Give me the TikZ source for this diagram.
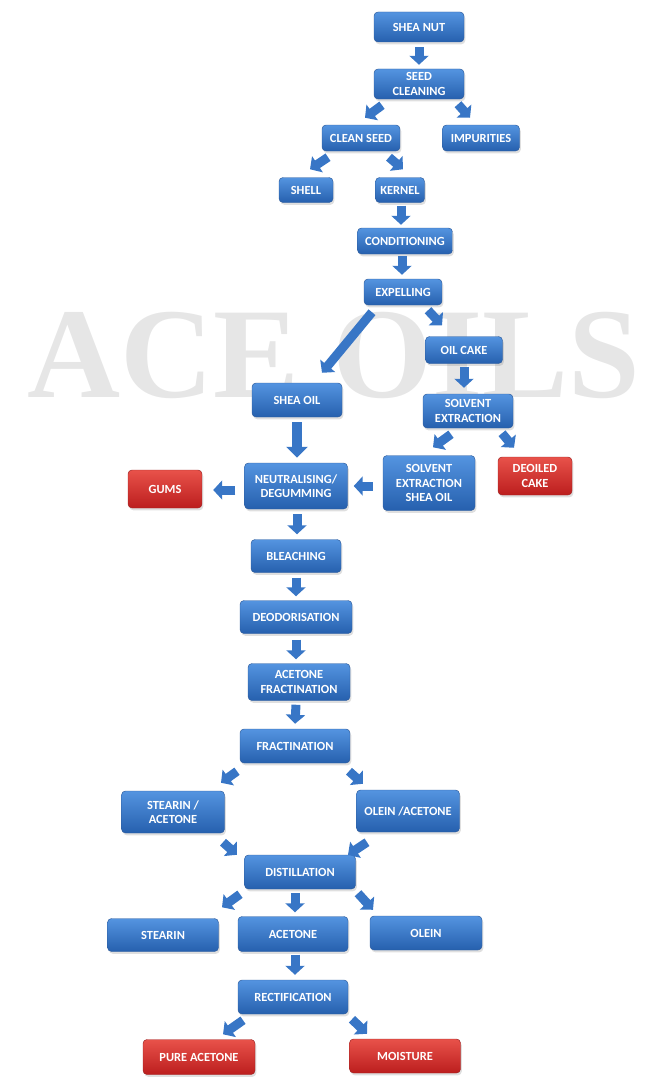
\documentclass[tikz,border=0pt]{standalone}
\usepackage{fontspec}
\setmainfont{Carlito}
\newfontfamily\markfont{Liberation Serif}
\usepackage{tikz}
\usetikzlibrary{arrows.meta, calc, shadows}
\definecolor{boxtop}{RGB}{84, 148, 224}
\definecolor{boxbot}{RGB}{38, 96, 174}
\definecolor{boxedge}{RGB}{46, 92, 156}
\definecolor{redtop}{RGB}{232, 82, 74}
\definecolor{redbot}{RGB}{188, 30, 30}
\definecolor{rededge}{RGB}{158, 36, 36}
\definecolor{arrowblue}{RGB}{56, 118, 198}
\definecolor{markgray}{RGB}{230, 230, 230}
\tikzset{
  box/.style    = {rectangle, rounded corners=1.2mm, draw=boxedge, top color=boxtop, bottom color=boxbot,
                   text=white, font=\fontsize{10.6}{12.4}\selectfont\bfseries, align=center, inner sep=0pt,
                   drop shadow={opacity=0.25, shadow xshift=0.4mm, shadow yshift=-0.7mm}},
  redbox/.style = {box, draw=rededge, top color=redtop, bottom color=redbot},
  blk/.style    = {-{Triangle[width=5.7mm, length=2.7mm]}, line width=2.7mm, arrowblue},
  blkbig/.style = {-{Triangle[width=6.3mm, length=3.3mm]}, line width=3.1mm, arrowblue},
}

\begin{document}
\begin{tikzpicture}[x=0.3mm, y=-0.3mm]

\useasboundingbox (0,0) rectangle (670,1086);

% ==================== watermark ====================
\node[anchor=base, text=markgray, font=\markfont\bfseries\fontsize{110}{110}\selectfont, inner sep=0pt]
  (mark) at (334,397) {ACE OILS};

% ==================== nut to expelling ====================
\node[box, minimum width=27mm,   minimum height=9mm]   (sn)  at (419,27)  {SHEA NUT};
\node[box, minimum width=27mm,   minimum height=9mm]   (scl) at (419,84)  {SEED\\CLEANING};
\node[box, minimum width=23.4mm, minimum height=7.8mm] (cs)  at (361,138) {CLEAN SEED};
\node[box, minimum width=23.1mm, minimum height=7.8mm] (imp) at (481,138) {IMPURITIES};
\node[box, minimum width=16.2mm, minimum height=7.5mm] (shl) at (306,190) {SHELL};
\node[box, minimum width=14.7mm, minimum height=7.5mm] (krn) at (400,190) {KERNEL};
\node[box, minimum width=28.5mm, minimum height=7.8mm] (cnd) at (405,241) {CONDITIONING};
\node[box, minimum width=23.4mm, minimum height=7.8mm] (exp) at (403,292) {EXPELLING};

% ==================== oil and cake ====================
\node[box, minimum width=23.1mm, minimum height=8.1mm]  (ock) at (464,350) {OIL CAKE};
\node[box, minimum width=27mm,   minimum height=10.2mm] (so)  at (297,400) {SHEA OIL};
\node[box, minimum width=27mm,   minimum height=10.2mm] (sx)  at (468,411) {SOLVENT\\EXTRACTION};
\node[box, minimum width=30.9mm, minimum height=13.8mm] (neu) at (296,486) {NEUTRALISING/\\DEGUMMING};
\node[box, minimum width=27.6mm, minimum height=16.5mm] (sxo) at (429,483) {SOLVENT\\EXTRACTION\\SHEA OIL};
\node[redbox, minimum width=22.2mm, minimum height=11.4mm] (doc) at (535,476) {DEOILED\\CAKE};
\node[redbox, minimum width=22.2mm, minimum height=11.4mm] (gum) at (165,489) {GUMS};

% ==================== refining ====================
\node[box, minimum width=27mm,   minimum height=9.9mm]  (blc) at (296,556) {BLEACHING};
\node[box, minimum width=33.6mm, minimum height=9.9mm]  (deo) at (296,617) {DEODORISATION};
\node[box, minimum width=30.6mm, minimum height=11.1mm] (afr) at (299,682) {ACETONE\\FRACTINATION};
\node[box, minimum width=33mm,   minimum height=10.2mm] (frc) at (295,746) {FRACTINATION};
\node[box, minimum width=30.9mm, minimum height=12.6mm] (sta) at (173,812) {STEARIN /\\ACETONE};
\node[box, minimum width=30.9mm, minimum height=12.6mm] (ola) at (408,811) {OLEIN /ACETONE};
\node[box, minimum width=33.3mm, minimum height=10.2mm] (dst) at (300,872) {DISTILLATION};
\node[box, minimum width=33.3mm, minimum height=9.9mm]  (str) at (163,935) {STEARIN};
\node[box, minimum width=33mm,   minimum height=10.5mm] (act) at (293,934) {ACETONE};
\node[box, minimum width=33.6mm, minimum height=10.2mm] (oln) at (426,933) {OLEIN};
\node[box, minimum width=33mm,   minimum height=10.2mm] (rct) at (293,997) {RECTIFICATION};
\node[redbox, minimum width=33.6mm, minimum height=10.5mm] (pac) at (199,1057) {PURE ACETONE};
\node[redbox, minimum width=33.3mm, minimum height=10.2mm] (mst) at (405,1056) {MOISTURE};

% ==================== arrows ====================
\draw[blk] ($(sn.south)+(0,5)$)    -- ($(scl.north)+(0,-4)$);
\draw[blk] ($(scl.south)+(-37,6)$) -- ($(cs.north)+(4,-7)$);
\draw[blk] ($(scl.south)+(39,5)$)  -- ($(imp.north)+(-11,-7)$);
\draw[blk] ($(cs.south)+(-33,6)$)  -- ($(shl.north)+(4,-8)$);
\draw[blk] ($(cs.south)+(28,6)$)   -- ($(krn.north)+(3,-8)$);
\draw[blk] ($(krn.south)+(1,3)$)   -- ($(cnd.north)+(-4,-3)$);
\draw[blk] ($(cnd.south)+(-3,2)$)  -- ($(exp.north)+(-1,-4)$);
\draw[blk] ($(exp.south)+(-31,7)$) -- ($(so.north)+(25,-10)$);
\draw[blk] ($(exp.south)+(25,5)$)  -- ($(ock.north)+(-22,-11)$);
\draw[blk] ($(ock.south)+(0,3)$)   -- ($(sx.north)+(-4,-6)$);
\draw[blkbig] ($(so.south)+(0,5)$) -- ($(neu.north)+(1,-5)$);
\draw[blk] ($(sx.south)+(-17,6)$)  -- ($(sxo.north)+(4,-8)$);
\draw[blk] ($(sx.south)+(34,5)$)   -- ($(doc.north)+(-21,-9)$);
\draw[blk] ($(sxo.west)+(-10,3)$)  -- ($(neu.east)+(6,0)$);
\draw[blk] ($(neu.west)+(-9,4)$)   -- ($(gum.east)+(11,1)$);
\draw[blk] ($(neu.south)+(1,5)$)   -- ($(blc.north)+(1,-5)$);
\draw[blk] ($(blc.south)+(0,5)$)   -- ($(deo.north)+(0,-4)$);
\draw[blk] ($(deo.south)+(0,6)$)   -- ($(afr.north)+(-3,-4)$);
\draw[blk] ($(afr.south)+(-3,4)$)  -- ($(frc.north)+(0,-5)$);
\draw[blk] ($(frc.south)+(-58,8)$) -- ($(sta.north)+(48,-8)$);
\draw[blk] ($(frc.south)+(54,8)$)  -- ($(ola.north)+(-45,-6)$);
\draw[blk] ($(sta.south)+(50,9)$)  -- ($(dst.north)+(-63,0)$);
\draw[blk] ($(ola.south)+(-41,10)$) -- ($(dst.north)+(48,0)$);
\draw[blk] ($(dst.south)+(-60,5)$) -- ($(str.north)+(59,-11)$);
\draw[blk] ($(dst.south)+(-5,4)$)  -- ($(act.north)+(2,-4)$);
\draw[blk] ($(dst.south)+(58,4)$)  -- ($(oln.north)+(-53,-6)$);
\draw[blk] ($(act.south)+(2,3)$)   -- ($(rct.north)+(2,-5)$);
\draw[blk] ($(rct.south)+(-50,6)$) -- ($(pac.north)+(24,-5)$);
\draw[blk] ($(rct.south)+(59,5)$)  -- ($(mst.north)+(-38,-5)$);

\end{tikzpicture}
\end{document}
